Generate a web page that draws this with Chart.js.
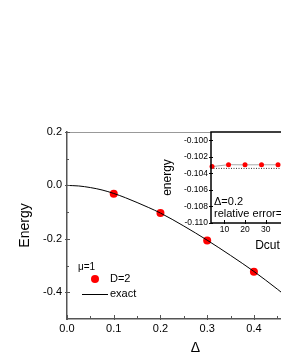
<!DOCTYPE html>
<html>
<head>
<meta charset="utf-8">
<script src="https://cdn.jsdelivr.net/npm/chart.js@4/dist/chart.umd.min.js"></script>
<style>
  html, body { margin: 0; padding: 0; background: #fff; overflow: hidden; width: 281px; height: 363px; }
  #main { position: absolute; left: 0; top: 0; }
  #inset { position: absolute; left: 150px; top: 122px; }
</style>
</head>
<body>
<canvas id="main" width="330" height="363"></canvas>
<canvas id="inset" width="178" height="131"></canvas>
<script>
// main panel: energy vs Delta (mu = 1)
var deltaD2 = [0.1, 0.2, 0.3, 0.4];
var energyD2 = [-0.031, -0.103, -0.206, -0.323];
var exactDelta = [0, 0.025, 0.05, 0.075, 0.1, 0.125, 0.15, 0.175, 0.2, 0.25, 0.3, 0.35, 0.4, 0.45, 0.5];
var exactEnergy = [0, -0.002, -0.008, -0.017, -0.030, -0.046, -0.064, -0.083, -0.1034, -0.152, -0.205, -0.262, -0.322, -0.388, -0.458];
var mainXTicks = [0, 0.1, 0.2, 0.3, 0.4, 0.5];
var mainXMinor = [0.05, 0.15, 0.25, 0.35, 0.45];
var mainYTicks = [-0.4, -0.2, 0.0, 0.2];
var mainYMinor = [-0.3, -0.1, 0.1];

// inset: energy vs Dcut at Delta = 0.2
var dcutVals = [4, 12, 20, 28, 36];
var dcutEnergy = [-0.10318, -0.10295, -0.10297, -0.10296, -0.10296];
var insetExact = -0.10340;
var insetXTicks = [10, 20, 30, 40, 50];
var insetYTicks = [-0.110, -0.108, -0.106, -0.104, -0.102, -0.100];

var FONT = '"Liberation Sans", Arial, sans-serif';

function pts(xs, ys) {
  return xs.map(function(x, i) { return { x: x, y: ys[i] }; });
}

function setTicks(list) {
  return function(scale) {
    scale.ticks = list.map(function(v) { return { value: v }; });
  };
}

// little tick marks drawn across the axis lines
function drawTickMarks(chart, xMajor, xMinor, yMajor, yMinor, len, color) {
  var ctx = chart.ctx, a = chart.chartArea;
  var xs = chart.scales.x, ys = chart.scales.y;
  ctx.save();
  ctx.strokeStyle = color;
  ctx.lineWidth = 1;
  ctx.beginPath();
  xMajor.forEach(function(v) {
    var px = Math.round(xs.getPixelForValue(v)) + 0.5;
    ctx.moveTo(px, a.bottom - len); ctx.lineTo(px, a.bottom + 1);
  });
  xMinor.forEach(function(v) {
    var px = Math.round(xs.getPixelForValue(v)) + 0.5;
    ctx.moveTo(px, a.bottom - len + 1); ctx.lineTo(px, a.bottom);
  });
  yMajor.forEach(function(v) {
    var py = Math.round(ys.getPixelForValue(v)) + 0.5;
    ctx.moveTo(a.left - 2, py); ctx.lineTo(a.left + len - 1, py);
  });
  yMinor.forEach(function(v) {
    var py = Math.round(ys.getPixelForValue(v)) + 0.5;
    ctx.moveTo(a.left - 1, py); ctx.lineTo(a.left + len - 2, py);
  });
  ctx.stroke();
  ctx.restore();
}

var mainDecor = {
  id: 'mainDecor',
  afterDraw: function(chart) {
    var ctx = chart.ctx, a = chart.chartArea;
    ctx.save();
    // top frame line
    ctx.strokeStyle = '#999';
    ctx.lineWidth = 1;
    ctx.beginPath();
    ctx.moveTo(a.left, a.top + 0.5); ctx.lineTo(a.right, a.top + 0.5);
    ctx.stroke();
    ctx.restore();
    drawTickMarks(chart, mainXTicks, mainXMinor, mainYTicks, mainYMinor, 4, '#555');

    // legend
    ctx.save();
    ctx.fillStyle = '#000';
    ctx.textBaseline = 'middle';
    ctx.textAlign = 'left';
    ctx.font = '10px ' + FONT;
    ctx.fillText('\u03bc=1', 78, 267);
    ctx.font = '11px ' + FONT;
    ctx.fillStyle = '#ff0000';
    ctx.beginPath();
    ctx.arc(95, 279, 4, 0, Math.PI * 2);
    ctx.fill();
    ctx.fillStyle = '#000';
    ctx.fillText('D=2', 110, 279);
    ctx.strokeStyle = '#000';
    ctx.lineWidth = 1;
    ctx.beginPath();
    ctx.moveTo(82, 294.5); ctx.lineTo(108, 294.5);
    ctx.stroke();
    ctx.fillText('exact', 110, 294);
    ctx.restore();
  }
};

new Chart(document.getElementById('main'), {
  type: 'scatter',
  data: {
    datasets: [{
      label: 'exact',
      data: pts(exactDelta, exactEnergy),
      showLine: true,
      borderColor: '#000',
      borderWidth: 1,
      pointRadius: 0,
      cubicInterpolationMode: 'monotone'
    }, {
      label: 'D=2',
      data: pts(deltaD2, energyD2),
      showLine: false,
      pointRadius: 4,
      pointBackgroundColor: '#ff0000',
      pointBorderColor: '#ff0000',
      pointBorderWidth: 0
    }]
  },
  options: {
    responsive: false,
    animation: false,
    layout: { padding: { top: 132, right: 6, left: 0, bottom: 0 } },
    plugins: { legend: { display: false }, tooltip: { enabled: false } },
    scales: {
      x: {
        type: 'linear', min: 0, max: 0.55,
        afterFit: function(s) { s.height = 44; },
        afterBuildTicks: setTicks(mainXTicks),
        grid: { display: false, drawTicks: false },
        border: { display: true, color: '#555', width: 1.5 },
        ticks: {
          padding: 3, color: '#000', maxRotation: 0, autoSkip: false,
          font: { family: FONT, size: 11 },
          callback: function(v) { return v.toFixed(1); }
        },
        title: {
          display: true, text: '\u0394', color: '#000',
          font: { family: FONT, size: 14 },
          padding: { top: 0, bottom: 6.6 }
        }
      },
      y: {
        type: 'linear', min: -0.5, max: 0.2,
        afterFit: function(s) { s.width = 67; },
        afterBuildTicks: setTicks(mainYTicks),
        grid: { display: false, drawTicks: false },
        border: { display: true, color: '#555', width: 1.5 },
        ticks: {
          padding: 5, color: '#000', autoSkip: false,
          font: { family: FONT, size: 11 },
          callback: function(v) { return v.toFixed(1); }
        },
        title: {
          display: true, text: 'Energy', color: '#000',
          font: { family: FONT, size: 14 },
          padding: { top: 16.6, bottom: 0 }
        }
      }
    }
  },
  plugins: [mainDecor]
});

var insetDecor = {
  id: 'insetDecor',
  beforeDraw: function(chart) {
    var ctx = chart.ctx, a = chart.chartArea;
    ctx.save();
    ctx.fillStyle = '#fff';
    ctx.fillRect(a.left, a.top, a.right - a.left, a.bottom - a.top);
    ctx.restore();
  },
  afterDraw: function(chart) {
    var ctx = chart.ctx, a = chart.chartArea;
    ctx.save();
    ctx.strokeStyle = '#000';
    ctx.lineWidth = 1.5;
    ctx.strokeRect(a.left, a.top, a.right - a.left, a.bottom - a.top);
    ctx.restore();
    drawTickMarks(chart, insetXTicks, [], insetYTicks, [], 3, '#000');

    ctx.save();
    ctx.fillStyle = '#000';
    ctx.textBaseline = 'middle';
    ctx.textAlign = 'left';
    ctx.font = '11px ' + FONT;
    ctx.fillText('\u0394=0.2', a.left + 3, a.top + 70);
    ctx.fillText('relative error=', a.left + 3, a.top + 82);
    ctx.restore();
  }
};

new Chart(document.getElementById('inset'), {
  type: 'scatter',
  data: {
    datasets: [{
      label: 'exact',
      data: [{ x: 3.5, y: insetExact }, { x: 58.3, y: insetExact }],
      showLine: true,
      borderColor: '#333',
      borderWidth: 1,
      borderDash: [1, 1.5],
      pointRadius: 0
    }, {
      label: 'D=2',
      data: pts(dcutVals, dcutEnergy),
      showLine: true,
      borderColor: '#aaa',
      borderWidth: 1,
      pointRadius: 2.5,
      pointBackgroundColor: '#ff0000',
      pointBorderColor: '#ff0000',
      pointBorderWidth: 0
    }]
  },
  options: {
    responsive: false,
    animation: false,
    clip: false,
    layout: { padding: { top: 10, right: 3, left: 0, bottom: 0 } },
    plugins: { legend: { display: false }, tooltip: { enabled: false } },
    scales: {
      x: {
        type: 'linear', min: 3.5, max: 58.3,
        afterFit: function(s) { s.height = 30; },
        afterBuildTicks: setTicks(insetXTicks),
        grid: { display: false, drawTicks: false },
        border: { display: false },
        ticks: {
          padding: 2, color: '#000', maxRotation: 0, autoSkip: false,
          font: { family: FONT, size: 8.5 }
        },
        title: {
          display: true, text: 'Dcut', color: '#000',
          font: { family: FONT, size: 12 },
          padding: { top: 0, bottom: 0 }
        }
      },
      y: {
        type: 'linear', min: -0.110, max: -0.099,
        afterFit: function(s) { s.width = 61; },
        afterBuildTicks: setTicks(insetYTicks),
        grid: { display: false, drawTicks: false },
        border: { display: false },
        ticks: {
          padding: 3, color: '#000', autoSkip: false,
          font: { family: FONT, size: 8.5 },
          callback: function(v) { return v.toFixed(3); }
        },
        title: {
          display: true, text: 'energy', color: '#000',
          font: { family: FONT, size: 12 },
          padding: { top: 10.8, bottom: 0 }
        }
      }
    }
  },
  plugins: [insetDecor]
});
</script>
</body>
</html>
